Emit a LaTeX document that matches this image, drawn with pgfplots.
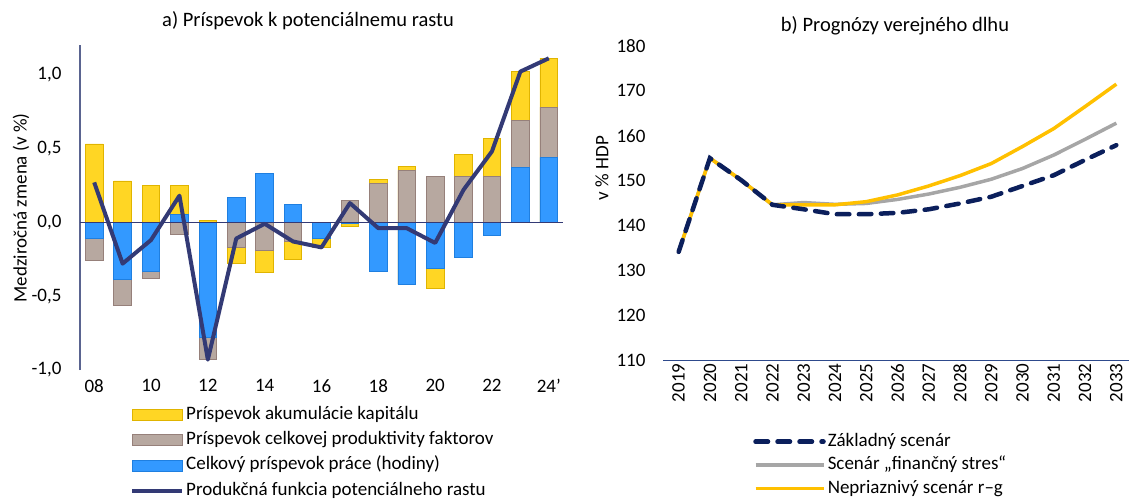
\documentclass[border=0pt]{standalone}
\usepackage{pgfplots}
\pgfplotsset{compat=1.18}
\usepackage{pgfplotstable}
\usepackage{fontspec}
\setmainfont{Carlito}

\definecolor{capfill}{HTML}{FFD624}
\definecolor{capdraw}{HTML}{E0B400}
\definecolor{tfpfill}{HTML}{B7A8A0}
\definecolor{tfpdraw}{HTML}{96807A}
\definecolor{labfill}{HTML}{3399FF}
\definecolor{labdraw}{HTML}{1F7FE0}
\definecolor{linenavy}{HTML}{333A75}
\definecolor{axisgray}{HTML}{5A6490}
\definecolor{basenavy}{HTML}{0B1F5C}
\definecolor{stressgray}{HTML}{A6A6A6}
\definecolor{adverseyellow}{HTML}{FFC000}
\definecolor{raxis}{HTML}{2E4A8C}

\pgfplotstableread{
year lab tfp cap tot
8  -0.11 -0.15 0.53 0.27
9  -0.39 -0.17 0.28 -0.28
10 -0.33 -0.05 0.25 -0.12
11 0.05 -0.08 0.20 0.18
12 -0.78 -0.15 0.01 -0.93
13 0.17 -0.17 -0.11 -0.11
14 0.33 -0.19 -0.15 -0.01
15 0.12 -0.13 -0.12 -0.13
16 -0.11 0.00 -0.06 -0.17
17 -0.01 0.15 -0.02 0.13
18 -0.33 0.26 0.03 -0.04
19 -0.42 0.35 0.03 -0.04
20 -0.31 0.31 -0.14 -0.14
21 -0.24 0.31 0.15 0.22
22 -0.09 0.31 0.26 0.48
23 0.37 0.32 0.33 1.02
24 0.44 0.34 0.33 1.11
}\growth

\pgfplotstableread{
year base stress adverse
2019 134.1 134.1 134.1
2020 155.0 155.0 155.0
2021 150.1 150.1 150.1
2022 144.6 144.6 144.6
2023 143.6 145.1 144.6
2024 142.5 144.7 144.6
2025 142.5 144.9 145.3
2026 142.8 145.8 146.8
2027 143.6 147.0 148.8
2028 144.9 148.5 151.1
2029 146.4 150.3 153.8
2030 148.8 152.7 157.6
2031 151.2 155.7 161.6
2032 154.6 159.2 166.5
2033 157.9 162.8 171.5
}\debt

\newcommand{\chartfont}{\fontsize{19}{23}\selectfont}
\newcommand{\titlefont}{\fontsize{20.5}{24}\selectfont}

\pgfplotsset{
  barleg/.style={legend image code/.code={\draw[##1] (0pt,-5.5pt) rectangle (50pt,5.5pt);}},
  lineleg/.style={legend image code/.code={\draw[##1] (0pt,0pt) -- (50pt,0pt);}},
  lineleg70/.style={legend image code/.code={\draw[##1] (0pt,0pt) -- (68pt,0pt);}},
  mybar/.style={ybar, bar width=0.62, bar shift=0pt, forget plot, line width=0.8pt},
}

\begin{document}
\begin{tikzpicture}[font=\chartfont]
\useasboundingbox (0pt,0pt) rectangle (1129pt,499pt);

% ---------- left panel ----------
\begin{axis}[
  scale only axis, width=483pt, height=325pt,
  at={(80pt,129pt)}, anchor=south west,
  xmin=7.5, xmax=24.5, ymin=-1, ymax=1.2,
  ytick={-1,-0.5,0,0.5,1},
  xtick={8,10,...,24}, xticklabels={08,10,12,14,16,18,20,22,24'},
  axis x line*=bottom, axis y line*=left,
  x axis line style={draw=none},
  y axis line style={draw=axisgray, line width=1.2pt, -},
  tick style={draw=none},
  /pgf/number format/assume math mode=true,
  yticklabel style={xshift=-15pt, /pgf/number format/.cd, use comma, fixed, fixed zerofill, precision=1},
  xticklabel style={yshift=-6pt},
  tick label style={font=\chartfont},
  legend cell align=left,
  legend style={at={(0.1035,-0.105)}, anchor=north west, draw=none, fill=none,
    inner sep=0pt, row sep=4.3pt, font=\chartfont,
    nodes={inner sep=2pt, text height=13pt, text depth=4pt}},
]
% positive stacks (overdrawn, largest first)
\addplot[mybar, fill=capfill, draw=capdraw] table[x=year, y expr={max(\thisrow{lab},0)+max(\thisrow{tfp},0)+max(\thisrow{cap},0)}]{\growth};
\addplot[mybar, fill=tfpfill, draw=tfpdraw] table[x=year, y expr={max(\thisrow{lab},0)+max(\thisrow{tfp},0)}]{\growth};
\addplot[mybar, fill=labfill, draw=labdraw] table[x=year, y expr={max(\thisrow{lab},0)}]{\growth};
% negative stacks
\addplot[mybar, fill=capfill, draw=capdraw] table[x=year, y expr={min(\thisrow{lab},0)+min(\thisrow{tfp},0)+min(\thisrow{cap},0)}]{\growth};
\addplot[mybar, fill=tfpfill, draw=tfpdraw] table[x=year, y expr={min(\thisrow{lab},0)+min(\thisrow{tfp},0)}]{\growth};
\addplot[mybar, fill=labfill, draw=labdraw] table[x=year, y expr={min(\thisrow{lab},0)}]{\growth};
\draw[linenavy, line width=1pt] (axis cs:7.5,0) -- (axis cs:24.5,0);
\addplot[linenavy, line width=4pt, line join=round, forget plot] table[x=year, y=tot]{\growth};

\addlegendimage{barleg, fill=capfill, draw=capdraw, line width=0.8pt}
\addlegendentry{Príspevok akumulácie kapitálu}
\addlegendimage{barleg, fill=tfpfill, draw=tfpdraw, line width=0.8pt}
\addlegendentry{Príspevok celkovej produktivity faktorov}
\addlegendimage{barleg, fill=labfill, draw=labdraw, line width=0.8pt}
\addlegendentry{Celkový príspevok práce (hodiny)}
\addlegendimage{lineleg, linenavy, line width=4pt}
\addlegendentry{Produkčná funkcia potenciálneho rastu}
\end{axis}

% ---------- right panel ----------
\begin{axis}[
  scale only axis, width=469pt, height=314pt,
  at={(663pt,139pt)}, anchor=south west,
  xmin=2018.5, xmax=2033.5, ymin=110, ymax=180,
  ytick={110,120,...,180},
  xtick={2019,2020,...,2033},
  axis x line*=bottom, axis y line*=left,
  y axis line style={draw=none},
  x axis line style={draw=raxis, line width=1pt, -},
  tick style={draw=none},
  /pgf/number format/assume math mode=true,
  xticklabel style={rotate=90, anchor=east, /pgf/number format/1000 sep={}},
  yticklabel style={xshift=-14pt, /pgf/number format/1000 sep={}},
  tick label style={font=\chartfont},
  legend cell align=left,
  legend style={at={(0.192,-0.226)}, anchor=north west, draw=none, fill=none,
    inner sep=0pt, row sep=2.5pt, font=\chartfont,
    nodes={inner sep=2pt, text height=13pt, text depth=4pt}},
]
\addplot[stressgray, line width=3.5pt, line join=round, forget plot] table[x=year, y=stress]{\debt};
\addplot[adverseyellow, line width=3.5pt, line join=round, forget plot] table[x=year, y=adverse]{\debt};
\addplot[basenavy, line width=4.5pt, line cap=round, dash pattern=on 12.5pt off 9.5pt, forget plot] table[x=year, y=base]{\debt};

\addlegendimage{lineleg70, basenavy, line width=4.5pt, line cap=round, dash pattern=on 12.5pt off 9.5pt}
\addlegendentry{Základný scenár}
\addlegendimage{lineleg70, stressgray, line width=3.5pt}
\addlegendentry{Scenár „finančný stres“}
\addlegendimage{lineleg70, adverseyellow, line width=3.5pt}
\addlegendentry{Nepriaznivý scenár r–g}
\end{axis}

% titles and axis labels
\node[anchor=base, font=\titlefont] at (308pt,472pt) {a) Príspevok k potenciálnemu rastu};
\node[anchor=base, font=\titlefont] at (895pt,467pt) {b) Prognózy verejného dlhu};
\node[rotate=90] at (21pt,291pt) {Medziročná zmena (v \%)};
\node[rotate=90] at (602pt,331pt) {v \% HDP};
\end{tikzpicture}
\end{document}
